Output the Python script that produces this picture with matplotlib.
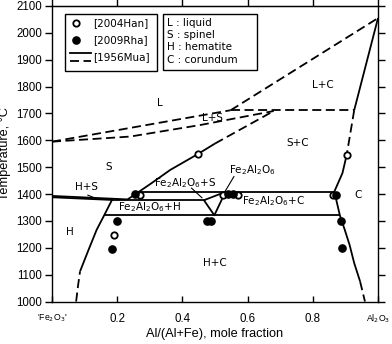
import matplotlib
matplotlib.use('Agg')
import matplotlib.pyplot as plt
from matplotlib.patches import Rectangle

# ---------------- data (x = Al/(Al+Fe), T in deg C) ----------------
# dashed boundaries [1956Mua]
liqS_up_x = [0.0, 0.548]
liqS_up_T = [1595, 1712]
liqS_lo_x = [0.0, 0.24, 0.455, 0.68]
liqS_lo_T = [1595, 1614, 1657, 1709]
solS_dash_x = [0.50, 0.68]
solS_dash_T = [1588, 1709]
liqC_x = [0.548, 1.0]
liqC_T = [1712, 2055]
perit_x = [0.548, 0.927]
perit_T = [1712, 1712]
corC_dash_x = [0.927, 0.904]
corC_dash_T = [1712, 1546]
hem_dash_x = [0.074, 0.080, 0.086]
hem_dash_T = [1000, 1060, 1112]
cor_dash_x = [0.945, 0.960]
cor_dash_T = [1075, 1000]

# solid boundaries
corC_top_x = [1.0, 0.927]
corC_top_T = [2055, 1712]
sp_x = [0.232, 0.30, 0.363, 0.449, 0.50]
sp_T = [1380, 1436, 1490, 1550, 1588]
hs_up_x = [0.0, 0.232]
hs_up_T = [1393, 1380]
hs_lo_x = [0.0, 0.185]
hs_lo_T = [1388, 1378]
eut_x = [0.185, 0.466]
eut_T = [1377, 1377]
iso_hi_x = [0.268, 0.866]
iso_hi_T = [1409, 1409]
iso_lo_x = [0.160, 0.883]
iso_lo_T = [1321, 1321]
tri_x = [0.466, 0.532, 0.498, 0.466]
tri_T = [1377, 1408, 1321, 1377]
hem_x = [0.086, 0.112, 0.137, 0.158, 0.184]
hem_T = [1112, 1192, 1267, 1316, 1378]
cor_x = [0.904, 0.891, 0.866, 0.883, 0.898, 0.913, 0.927, 0.945]
cor_T = [1546, 1478, 1409, 1321, 1267, 1210, 1143, 1075]

# experimental points
han_x = [0.189, 0.271, 0.449, 0.526, 0.571, 0.861, 0.904]
han_T = [1246, 1397, 1548, 1398, 1398, 1397, 1546]
rha_x = [0.184, 0.199, 0.255, 0.475, 0.487, 0.541, 0.556, 0.871, 0.886, 0.891]
rha_T = [1196, 1300, 1400, 1298, 1298, 1400, 1400, 1398, 1298, 1198]

# region labels
region_labels = ['L', 'L+C', 'L+S', 'S', 'S+C', 'H+S',
                 r'Fe$_2$Al$_2$O$_6$+S', r'Fe$_2$Al$_2$O$_6$',
                 r'Fe$_2$Al$_2$O$_6$+H', r'Fe$_2$Al$_2$O$_6$+C',
                 'C', 'H', 'H+C']
legend_refs = ['[2004Han]', '[2009Rha]', '[1956Mua]']
legend_phases = ['L : liquid', 'S : spinel', 'H : hematite', 'C : corundum']

yticks = list(range(1000, 2101, 100))
xticks = [0.0, 0.2, 0.4, 0.6, 0.8, 1.0]
xticklabels = ["'Fe$_2$O$_3$'", '0.2', '0.4', '0.6', '0.8', 'Al$_2$O$_3$']

# ---------------- layout ----------------
label_pos = [(0.33, 1738), (0.83, 1806), (0.491, 1682), (0.173, 1502),
             (0.753, 1589), (0.105, 1425), (0.409, 1442), (0.614, 1488),
             (0.30, 1350), (0.678, 1374), (0.94, 1397), (0.055, 1258),
             (0.50, 1144)]

fig = plt.figure(figsize=(3.92, 3.44), dpi=100)
ax = fig.add_axes([52/392, 42.5/344, 326/392, 295.5/344])
ax.set_xlim(0, 1)
ax.set_ylim(1000, 2100)

LW = 1.3
DASH = (0, (5, 2.5))
k = dict(color='black', lw=LW, solid_capstyle='butt')

for xs, ts in [(liqS_up_x, liqS_up_T), (liqS_lo_x, liqS_lo_T),
               (solS_dash_x, solS_dash_T), (liqC_x, liqC_T),
               (perit_x, perit_T), (corC_dash_x, corC_dash_T),
               (hem_dash_x, hem_dash_T), (cor_dash_x, cor_dash_T)]:
    ax.plot(xs, ts, linestyle=DASH, **k)

for xs, ts in [(corC_top_x, corC_top_T), (sp_x, sp_T), (hs_up_x, hs_up_T),
               (hs_lo_x, hs_lo_T), (eut_x, eut_T), (iso_hi_x, iso_hi_T),
               (iso_lo_x, iso_lo_T), (tri_x, tri_T), (hem_x, hem_T),
               (cor_x, cor_T)]:
    ax.plot(xs, ts, linestyle='-', **k)

# pointer lines
ax.plot([0.11, 0.138], [1396, 1382], color='black', lw=0.8)
ax.plot([0.428, 0.460], [1422, 1386], color='black', lw=0.8)
ax.plot([0.558, 0.529], [1465, 1406], color='black', lw=0.8)

ax.plot(han_x, han_T, 'o', ms=4.6, mfc='white', mec='black', mew=1.3,
        linestyle='none', zorder=5)
ax.plot(rha_x, rha_T, 'o', ms=5.2, mfc='black', mec='black',
        linestyle='none', zorder=5)

lab_font = dict(family='DejaVu Sans', fontsize=7.5, ha='center', va='center')
for txt, (lx, lt) in zip(region_labels, label_pos):
    ax.text(lx, lt, txt, **lab_font)

# legend boxes
ax.add_patch(Rectangle((0.040, 1858), 0.283, 212, fill=False, lw=1.0,
                       edgecolor='black', zorder=6))
ax.add_patch(Rectangle((0.342, 1862), 0.286, 208, fill=False, lw=1.0,
                       edgecolor='black', zorder=6))
ax.plot([0.074], [2037], 'o', ms=4.6, mfc='white', mec='black', mew=1.3)
ax.plot([0.074], [1974], 'o', ms=5.2, mfc='black', mec='black')
ax.plot([0.055, 0.12], [1925, 1925], color='black', lw=LW)
ax.plot([0.055, 0.12], [1897, 1897], color='black', lw=LW, linestyle=DASH)
for txt, lt in zip(legend_refs, [2037, 1974, 1910]):
    ax.text(0.127, lt, txt, family='DejaVu Sans', fontsize=7.5,
            ha='left', va='center')
for txt, lt in zip(legend_phases, [2037, 1992, 1946, 1900]):
    ax.text(0.354, lt, txt, family='DejaVu Sans', fontsize=7.5,
            ha='left', va='center')

# axes styling
ax.set_yticks(yticks)
ax.set_xticks(xticks)
ax.set_xticklabels(xticklabels)
for lbl in ax.get_yticklabels():
    lbl.set_family('Liberation Sans'); lbl.set_fontsize(8.3)
for i, lbl in enumerate(ax.get_xticklabels()):
    lbl.set_family('Liberation Sans')
    lbl.set_fontsize(6.3 if i in (0, 5) else 8.3)
ax.tick_params(axis='y', direction='out', length=5, width=1.0, pad=2,
               left=True, right=True)
ax.tick_params(axis='x', direction='in', length=4, width=1.0, pad=8,
               top=False, bottom=True)
# outward ticks on the top edge
sec = ax.secondary_xaxis('top')
sec.set_xticks(xticks)
sec.set_xticklabels([])
sec.tick_params(direction='out', length=5, width=1.0)
ax.tick_params(axis='y', which='both', labelright=False)
for s in ax.spines.values():
    s.set_linewidth(1.0)

ax.set_xlabel('Al/(Al+Fe), mole fraction', family='Liberation Sans',
              fontsize=9.2, labelpad=2)
ax.set_ylabel('Temperature, °C', family='Liberation Sans', fontsize=9.2,
              labelpad=4)

fig.savefig('out.png', dpi=100)
